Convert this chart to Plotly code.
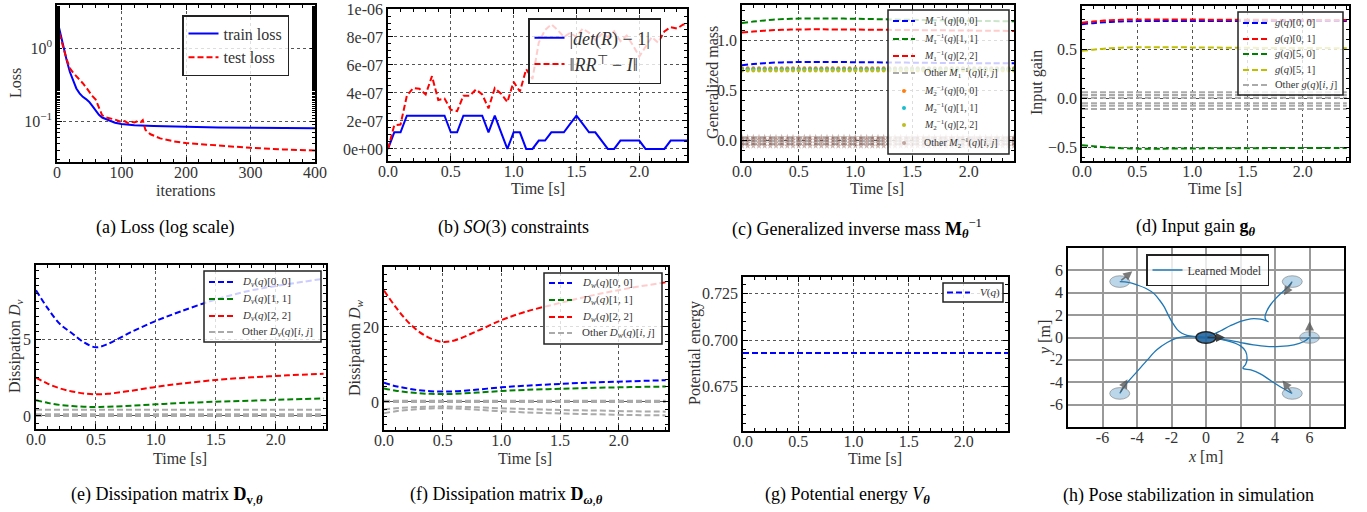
import numpy as np
import plotly.graph_objects as go

W, H = 1367, 512
FONT = "Liberation Serif"

# ---------------- data ----------------
# (a) loss
train_it = [0, 5, 10, 15, 20, 25, 30, 35, 40, 45, 50, 55, 60, 65, 70, 80, 90, 100, 120, 150, 200, 250, 300, 350, 400]
train_loss = [2.5, 1.6, 1.05, 0.68, 0.47, 0.35, 0.28, 0.24, 0.215, 0.2, 0.183, 0.16, 0.14, 0.122, 0.112, 0.102, 0.095, 0.091, 0.088, 0.086, 0.083, 0.082, 0.081, 0.0805, 0.080]
test_it = [0, 5, 10, 15, 20, 25, 30, 35, 40, 45, 50, 55, 60, 65, 70, 75, 80, 90, 100, 105, 110, 115, 120, 125, 130, 133, 137, 145, 160, 180, 200, 250, 300, 350, 400]
test_loss = [2.1, 1.5, 1.0, 0.7, 0.53, 0.46, 0.415, 0.37, 0.33, 0.29, 0.25, 0.22, 0.197, 0.156, 0.12, 0.113, 0.11, 0.105, 0.097, 0.1, 0.094, 0.098, 0.096, 0.1, 0.097, 0.103, 0.076, 0.066, 0.058, 0.053, 0.050, 0.046, 0.043, 0.041, 0.0395]

# (b) SO(3) constraints, sampled every 0.05 s
t_k = np.round(np.arange(0, 2.401, 0.05), 2)
det_err = [0, 1.19e-7, 1.19e-7, 2.38e-7, 2.38e-7, 2.38e-7, 2.38e-7, 2.38e-7, 2.38e-7, 2.38e-7,
           1.19e-7, 1.19e-7, 2.38e-7, 2.38e-7, 2.38e-7, 2.38e-7, 1.19e-7, 2.38e-7, 1.19e-7, 0,
           1.19e-7, 1.19e-7, 0, 0, 5.96e-8, 5.96e-8, 1.19e-7, 1.19e-7, 1.19e-7, 1.79e-7,
           2.38e-7, 1.79e-7, 1.19e-7, 1.19e-7, 5.96e-8, 0, 0, 5.96e-8, 5.96e-8, 5.96e-8,
           5.96e-8, 0, 0, 0, 0, 5.96e-8, 5.96e-8, 5.96e-8, 5.96e-8]
orth_err = [0.0, 1.7e-7, 1.75e-7, 3.8e-7, 4.35e-7, 4.3e-7, 3.9e-7, 5.2e-7, 3.5e-7, 3.6e-7,
            2.8e-7, 2.7e-7, 3.8e-7, 3.8e-7, 4.25e-7, 3.9e-7, 2.9e-7, 4.35e-7, 3.95e-7, 3.35e-7,
            4.8e-7, 4.1e-7, 5.7e-7, 5.0e-7, 7.6e-7, 8.5e-7, 8.9e-7, 8.5e-7, 8.0e-7, 8.3e-7,
            8.0e-7, 8.6e-7, 8.3e-7, 7.8e-7, 8.2e-7, 8.0e-7, 8.4e-7, 7.7e-7, 8.1e-7, 7.4e-7,
            6.6e-7, 7.3e-7, 8.0e-7, 7.6e-7, 8.4e-7, 8.7e-7, 8.6e-7, 8.9e-7, 8.9e-7]

# (c) inverse mass, (d) input gain
t_m = [0, 0.1, 0.2, 0.3, 0.4, 0.5, 0.7, 1.0, 1.3, 1.6, 1.9, 2.2, 2.4]
M1_00 = [0.752, 0.763, 0.772, 0.778, 0.781, 0.783, 0.784, 0.782, 0.779, 0.776, 0.773, 0.771, 0.770]
M1_11 = [1.170, 1.185, 1.197, 1.206, 1.212, 1.215, 1.217, 1.213, 1.207, 1.200, 1.195, 1.190, 1.188]
M1_22 = [1.076, 1.087, 1.095, 1.101, 1.105, 1.107, 1.108, 1.106, 1.103, 1.100, 1.097, 1.094, 1.092]
M1_other_levels = [0.03, 0.0, -0.03]
M2_00_level = 0.722
M2_11_level = 0.712
M2_22_level = 0.698
M2_other_levels = [0.035, 0.01, -0.02, -0.05]

g_00 = [0.755, 0.765, 0.774, 0.780, 0.784, 0.786, 0.787, 0.787, 0.786, 0.786, 0.786, 0.786, 0.786]
g_01 = [0.769, 0.781, 0.791, 0.797, 0.801, 0.803, 0.803, 0.802, 0.800, 0.799, 0.798, 0.797, 0.797]
g_50 = [-0.479, -0.490, -0.499, -0.506, -0.511, -0.514, -0.514, -0.512, -0.510, -0.509, -0.508, -0.507, -0.507]
g_51 = [0.483, 0.495, 0.505, 0.512, 0.517, 0.520, 0.520, 0.518, 0.515, 0.513, 0.512, 0.511, 0.510]
g_other_levels = [0.061, 0.034, 0.005, -0.051, -0.078, -0.109]

# (e), (f) dissipation
t_d = [0, 0.1, 0.2, 0.3, 0.4, 0.5, 0.6, 0.8, 1.0, 1.2, 1.5, 1.8, 2.1, 2.4]
Dv_00 = [8.2, 7.0, 6.0, 5.4, 4.8, 4.48, 4.7, 5.5, 6.2, 6.8, 7.6, 8.2, 8.6, 8.95]
Dv_11 = [1.03, 0.85, 0.72, 0.65, 0.6, 0.59, 0.6, 0.67, 0.76, 0.84, 0.93, 1.0, 1.08, 1.14]
Dv_22 = [2.5, 2.1, 1.8, 1.6, 1.47, 1.42, 1.45, 1.65, 1.9, 2.1, 2.35, 2.52, 2.65, 2.75]
Dv_other_levels = [0.41, 0.12, 0.0]

Dw_00 = [5.1, 4.2, 3.6, 3.1, 2.85, 2.75, 2.8, 3.3, 3.9, 4.3, 4.8, 5.2, 5.5, 5.8]
Dw_11 = [3.6, 3.0, 2.6, 2.3, 2.15, 2.1, 2.15, 2.5, 2.9, 3.2, 3.5, 3.75, 3.95, 4.1]
Dw_22 = [29.7, 25.3, 21.5, 18.7, 16.9, 16.0, 16.4, 19.0, 21.8, 24.0, 26.4, 28.6, 30.4, 31.9]
Dw_other_a = [-2.0, -1.7, -1.5, -1.35, -1.27, -1.24, -1.27, -1.45, -1.7, -1.9, -2.15, -2.3, -2.5, -2.6]
Dw_other_b = [-3.0, -2.5, -2.15, -1.9, -1.75, -1.7, -1.75, -2.1, -2.5, -2.8, -3.1, -3.3, -3.5, -3.6]
Dw_other_levels = [0.3, 0.0]

# (g) potential energy
t_v = [0, 2.4]
V_q = [0.6931, 0.6931]

# (h) pose stabilization trajectories
traj_x = [
    [-5.0, -4.5, -4.0, -3.5, -3.0, -2.7, -2.45, -2.25, -2.05, -1.85, -1.65, -1.4, -1.1, -0.7, -0.3, 0.0],
    [5.0, 4.7, 4.35, 4.05, 3.75, 3.52, 3.42, 3.48, 3.6, 3.3, 3.0, 2.6, 2.0, 1.4, 0.85, 0.4, 0.0],
    [6.0, 5.65, 5.1, 4.3, 3.5, 2.75, 2.0, 1.2, 0.6, 0.0],
    [-5.0, -4.6, -4.0, -3.4, -2.85, -2.25, -1.7, -1.1, -0.5, 0.0],
    [5.0, 4.3, 3.7, 3.15, 2.6, 2.14, 2.3, 2.38, 2.3, 2.0, 1.4, 0.8, 0.25, 0.0],
]
traj_y = [
    [5.0, 4.93, 4.7, 4.4, 3.9, 3.35, 2.8, 2.2, 1.6, 1.1, 0.68, 0.38, 0.2, 0.09, 0.03, 0.0],
    [5.0, 4.45, 3.95, 3.5, 2.95, 2.35, 1.85, 1.55, 1.42, 1.6, 1.67, 1.67, 1.45, 1.05, 0.6, 0.25, 0.0],
    [0.0, -0.38, -0.65, -0.8, -0.8, -0.66, -0.45, -0.22, -0.07, 0.0],
    [-5.0, -4.1, -3.05, -2.0, -1.1, -0.45, -0.06, 0.1, 0.06, 0.0],
    [-5.0, -4.4, -3.8, -3.25, -2.9, -2.74, -2.4, -1.85, -1.25, -0.75, -0.37, -0.15, -0.03, 0.0],
]
start_heading_deg = [40, 240, 90, 62, 126]
goal_heading_deg = 0

# ---------------- helpers ----------------
def xd(l, r):
    return [l / W, r / W]

def yd(t, b):
    return [1 - b / H, 1 - t / H]

BLUE, GREEN, RED, OLIVE, GREY = "#0000ff", "#008000", "#ff0000", "#bfbf00", "#aaaaaa"
ORANGE, CYAN, YEL, BROWN = "#ff7f0e", "#17becf", "#bcbd22", "#8c564b"
DASH = "6px,3px"

fig = go.Figure()
shapes = []
annotations = []

def line(x, y, color, name, xa, ya, leg=None, dash=DASH, width=2, show=True, group=None, shape="spline"):
    kw = dict(legend=leg) if leg else {}
    fig.add_trace(go.Scatter(x=x, y=y, mode="lines", name=name,
                             line=dict(color=color, width=width, dash=dash, shape=shape),
                             xaxis=xa, yaxis=ya, showlegend=(show and leg is not None),
                             legendgroup=group or name, **kw))

def markers(y, color, name, symbol="circle", size=4, opacity=1.0):
    fig.add_trace(go.Scatter(x=t_k, y=y, mode="markers", name=name,
                             marker=dict(color=color, size=size, symbol=symbol, opacity=opacity,
                                         line=dict(width=0)),
                             xaxis="x3", yaxis="y3", showlegend=False))

def manual_legend(box, ys, labels, styles, sample_x, text_x, size):
    x0, y0, x1, y1 = box
    shapes.append(dict(type="rect", xref="paper", yref="paper", x0=x0 / W, x1=x1 / W,
                       y0=1 - y1 / H, y1=1 - y0 / H, fillcolor="rgba(255,255,255,0.8)",
                       line=dict(color="#222", width=1.5), layer="above"))
    for yc, lab, st in zip(ys, labels, styles):
        kind, color = st[0], st[1]
        if kind == "line":
            shapes.append(dict(type="line", xref="paper", yref="paper", x0=sample_x[0] / W,
                               x1=sample_x[1] / W, y0=1 - yc / H, y1=1 - yc / H,
                               line=dict(color=color, width=2, dash=DASH), layer="above"))
        else:
            cx = (sample_x[0] + sample_x[1]) / 2
            r = 2.0
            shapes.append(dict(type="circle", xref="paper", yref="paper", x0=(cx - r) / W, x1=(cx + r) / W,
                               y0=1 - (yc + r) / H, y1=1 - (yc - r) / H, fillcolor=color,
                               line=dict(width=0), opacity=st[2] if len(st) > 2 else 1, layer="above"))
        annotations.append(dict(x=text_x / W, y=1 - yc / H, xref="paper", yref="paper", text=lab,
                                showarrow=False, xanchor="left", yanchor="middle",
                                font=dict(family=FONT, size=size, color="#333")))

# (a)
line(train_it, train_loss, BLUE, "train loss", "x", "y", "legend", dash="solid", shape="linear")
line(test_it, test_loss, RED, "test loss", "x", "y", "legend", shape="linear")

# (b)
line(t_k, det_err, BLUE, "|<i>det</i>(<i>R</i>) − 1| ", "x2", "y2", "legend2", dash="solid", shape="linear")
line(t_k, orth_err, RED, "‖<i>RR</i><sup>⊤</sup> − <i>I</i>‖", "x2", "y2", "legend2", shape="linear")

# (c)
M1n = "<i>M</i><sub>1</sub><sup>−1</sup>(<i>q</i>)"
M2n = "<i>M</i><sub>2</sub><sup>−1</sup>(<i>q</i>)"
line(t_m, M1_00, BLUE, M1n + "[0, 0]", "x3", "y3")
line(t_m, M1_11, GREEN, M1n + "[1, 1]", "x3", "y3")
line(t_m, M1_22, RED, M1n + "[2, 2]", "x3", "y3")
for lv in M1_other_levels:
    line([t_m[0], t_m[-1]], [lv, lv], GREY, "Other " + M1n, "x3", "y3")
markers(np.full(len(t_k), M2_00_level), ORANGE, M2n + "[0, 0]")
markers(np.full(len(t_k), M2_11_level), CYAN, M2n + "[1, 1]")
markers(np.full(len(t_k), M2_22_level), YEL, M2n + "[2, 2]")
for lv in M2_other_levels:
    markers(np.full(len(t_k), lv), BROWN, "Other " + M2n, symbol="star", size=5, opacity=0.45)
manual_legend((888, 10, 1009, 154), [21, 39, 56, 73, 91, 108, 125, 143],
              [M1n + "[0, 0]", M1n + "[1, 1]", M1n + "[2, 2]", "Other " + M1n + "[<i>i</i>, <i>j</i>]",
               M2n + "[0, 0]", M2n + "[1, 1]", M2n + "[2, 2]", "Other " + M2n + "[<i>i</i>, <i>j</i>]"],
              [("line", BLUE), ("line", GREEN), ("line", RED), ("line", GREY),
               ("dot", ORANGE), ("dot", CYAN), ("dot", YEL), ("dot", BROWN, 0.5)],
              (893, 915), 922, 10)

# (d)
gn = "<i>g</i>(<i>q</i>)"
line(t_m, g_00, BLUE, gn + "[0, 0]", "x4", "y4")
line(t_m, g_01, RED, gn + "[0, 1]", "x4", "y4")
line(t_m, g_50, GREEN, gn + "[5, 0]", "x4", "y4")
line(t_m, g_51, OLIVE, gn + "[5, 1]", "x4", "y4")
for lv in g_other_levels:
    line([t_m[0], t_m[-1]], [lv, lv], GREY, "Other " + gn, "x4", "y4")
manual_legend((1238, 12, 1343, 95), [23, 39, 54, 70, 85],
              [gn + "[0, 0]", gn + "[0, 1]", gn + "[5, 0]", gn + "[5, 1]", "Other " + gn + "[<i>i</i>, <i>j</i>]"],
              [("line", BLUE), ("line", RED), ("line", GREEN), ("line", OLIVE), ("line", GREY)],
              (1243, 1267), 1273, 10.5)

# (e)
dvn = "<i>D<sub>v</sub></i>(<i>q</i>)"
line(t_d, Dv_00, BLUE, dvn + "[0, 0]", "x5", "y5")
line(t_d, Dv_11, GREEN, dvn + "[1, 1]", "x5", "y5")
line(t_d, Dv_22, RED, dvn + "[2, 2]", "x5", "y5")
for lv in Dv_other_levels:
    line([t_d[0], t_d[-1]], [lv, lv], GREY, "Other " + dvn, "x5", "y5")
manual_legend((204, 271, 321, 342), [282, 299, 316, 332],
              [dvn + "[0, 0]", dvn + "[1, 1]", dvn + "[2, 2]", "Other " + dvn + "[<i>i</i>, <i>j</i>]"],
              [("line", BLUE), ("line", GREEN), ("line", RED), ("line", GREY)],
              (209, 233), 240, 11)

# (f)
dwn = "<i>D<sub>w</sub></i>(<i>q</i>)"
line(t_d, Dw_00, BLUE, dwn + "[0, 0]", "x6", "y6")
line(t_d, Dw_11, GREEN, dwn + "[1, 1]", "x6", "y6")
line(t_d, Dw_22, RED, dwn + "[2, 2]", "x6", "y6")
for lv in Dw_other_levels:
    line([t_d[0], t_d[-1]], [lv, lv], GREY, "Other " + dwn, "x6", "y6")
line(t_d, Dw_other_a, GREY, "Other " + dwn, "x6", "y6")
line(t_d, Dw_other_b, GREY, "Other " + dwn, "x6", "y6")
manual_legend((544, 273, 662, 344), [283, 300, 317, 333],
              [dwn + "[0, 0]", dwn + "[1, 1]", dwn + "[2, 2]", "Other " + dwn + "[<i>i</i>, <i>j</i>]"],
              [("line", BLUE), ("line", GREEN), ("line", RED), ("line", GREY)],
              (549, 572), 580, 11)

# (g)
line(t_v, V_q, BLUE, "<i>V</i>(<i>q</i>)", "x7", "y7", shape="linear")
manual_legend((943, 283, 1003, 302), [292.5], ["<i>V</i>(<i>q</i>)"], [("line", BLUE)],
              (947, 970), 978, 11)

# (h)
for i, (tx, ty) in enumerate(zip(traj_x, traj_y)):
    line(tx, ty, "#1f77b4", "Learned Model", "x8", "y8", "legend8", dash="solid", width=1.3,
         show=(i == 0), group="h_traj")

R_X, R_Y = 0.58, 0.52
for tx, ty, hd in zip(traj_x, traj_y, start_heading_deg):
    sx, sy = tx[0], ty[0]
    shapes.insert(0, dict(type="circle", xref="x8", yref="y8", x0=sx - R_X, x1=sx + R_X, y0=sy - R_Y, y1=sy + R_Y,
                          fillcolor="rgba(31,119,180,0.3)", line=dict(color="rgba(120,120,120,0.6)", width=1),
                          layer="above"))
    L = 0.95
    annotations.append(dict(x=sx + L * np.cos(np.radians(hd)), y=sy + L * 1.5 * np.sin(np.radians(hd)),
                            ax=sx, ay=sy, xref="x8", yref="y8", axref="x8", ayref="y8",
                            showarrow=True, arrowhead=2, arrowsize=1.2, arrowwidth=1.5,
                            arrowcolor="rgba(90,90,90,0.8)", text=""))
gx, gy = traj_x[0][-1], traj_y[0][-1]
shapes.insert(0, dict(type="circle", xref="x8", yref="y8", x0=gx - R_X, x1=gx + R_X, y0=gy - R_Y, y1=gy + R_Y,
                      fillcolor="rgba(31,100,160,0.9)", line=dict(color="#222", width=1.5), layer="above"))
annotations.append(dict(x=gx + 1.1 * np.cos(np.radians(goal_heading_deg)), y=gy, ax=gx, ay=gy,
                        xref="x8", yref="y8", axref="x8", ayref="y8", showarrow=True, arrowhead=2,
                        arrowsize=1.2, arrowwidth=1.5, arrowcolor="rgba(50,50,50,0.9)", text=""))

# ---------------- axes ----------------
TICKFONT = dict(family=FONT, size=16, color="#333")

def axis(domain, anchor, **kw):
    d = dict(domain=domain, anchor=anchor, showline=True, linecolor="black", linewidth=1.5,
             mirror="allticks", ticks="inside", ticklen=5, tickcolor="black", tickwidth=1,
             showgrid=True, gridcolor="#555", griddash="dot", gridwidth=1, zeroline=False,
             tickfont=TICKFONT, minor=dict(ticks="inside", ticklen=3, tickcolor="black", showgrid=False))
    d.update(kw)
    return d

time_ticks = dict(tickvals=[0, 0.5, 1.0, 1.5, 2.0], ticktext=["0.0", "0.5", "1.0", "1.5", "2.0"],
                  ticklabelstandoff=-5)

layout = dict(
    xaxis=axis(xd(57, 315), "y", range=[0, 400], tickvals=[0, 100, 200, 300, 400], ticklabelstandoff=-5),
    yaxis=axis(yd(5, 162), "x", type="log", range=[-1.56, 0.59], tickvals=[0.1, 1],
               ticktext=["10<sup>−1</sup>", "10<sup>0</sup>"]),
    xaxis2=axis(xd(388, 687), "y2", range=[0, 2.38], **time_ticks),
    yaxis2=axis(yd(9, 161), "x2", range=[-0.86e-7, 1.0e-6],
                tickvals=[0, 2e-7, 4e-7, 6e-7, 8e-7, 1e-6],
                ticktext=["0e+00", "2e-07", "4e-07", "6e-07", "8e-07", "1e-06"]),
    xaxis3=axis(xd(742, 1014), "y3", range=[0, 2.4], **time_ticks),
    yaxis3=axis(yd(5, 161), "x3", range=[-0.2, 1.35], tickvals=[0, 0.5, 1.0], ticktext=["0.0", "0.5", "1.0"]),
    xaxis4=axis(xd(1082, 1349), "y4", range=[0, 2.42], **time_ticks),
    yaxis4=axis(yd(6, 161), "x4", range=[-0.64, 0.94], tickvals=[-0.5, 0, 0.5], ticktext=["−0.5", "0.0", "0.5"]),
    xaxis5=axis(xd(36, 326), "y5", range=[0, 2.42], **time_ticks),
    yaxis5=axis(yd(265, 429), "x5", range=[-0.85, 9.85], tickvals=[0, 5], ticktext=["0", "5"]),
    xaxis6=axis(xd(384, 668), "y6", range=[0, 2.42], **time_ticks),
    yaxis6=axis(yd(267, 430), "x6", range=[-7.5, 36], tickvals=[0, 20], ticktext=["0", "20"]),
    xaxis7=axis(xd(743, 1008), "y7", range=[0, 2.4], **time_ticks),
    yaxis7=axis(yd(277, 431), "x7", range=[0.651, 0.734], tickvals=[0.675, 0.7, 0.725],
                ticktext=["0.675", "0.700", "0.725"]),
    xaxis8=dict(domain=xd(1068, 1344), anchor="y8", range=[-8, 8], showline=True, linecolor="black",
                linewidth=1.5, mirror=True, ticks="", showgrid=True, gridcolor="#999", gridwidth=1.5,
                zeroline=False, tickvals=[-8, -6, -4, -2, 0, 2, 4, 6, 8], ticklabelstandoff=-5,
                ticktext=["", "-6", "-4", "-2", "0", "2", "4", "6", ""], tickfont=TICKFONT),
    yaxis8=dict(domain=yd(248, 427), anchor="x8", range=[-8, 8], showline=True, linecolor="black",
                linewidth=1.5, mirror=True, ticks="", showgrid=True, gridcolor="#999", gridwidth=1.5,
                zeroline=False, tickvals=[-8, -6, -4, -2, 0, 2, 4, 6, 8],
                ticktext=["", "-6", "-4", "-2", "0", "2", "4", "6", ""], tickfont=TICKFONT),
)

def leg(x, y, size):
    return dict(x=x / W, y=1 - y / H, xanchor="left", yanchor="top",
                bgcolor="rgba(255,255,255,0.8)", bordercolor="#222", borderwidth=1.5,
                font=dict(family=FONT, size=size, color="#333"), tracegroupgap=0,
                traceorder="normal", itemwidth=30)

layout["legend"] = leg(182, 15, 16)
layout["legend2"] = leg(528, 18, 18)
layout["legend8"] = leg(1146, 254, 12)

# axis titles and captions
def txt(x, y, s, size=16, angle=0, color="#333"):
    annotations.append(dict(x=x / W, y=1 - y / H, xref="paper", yref="paper", text=s, showarrow=False,
                            textangle=angle, xanchor="center", yanchor="middle",
                            font=dict(family=FONT, size=size, color=color)))

txt(15, 83, "Loss", angle=-90)
txt(186, 190, "iterations")
txt(538, 188, "Time [s]")
txt(712, 83, "Generalized mass", angle=-90)
txt(877, 188, "Time [s]")
txt(1037, 83, "Input gain", angle=-90)
txt(1215, 188, "Time [s]")
txt(15, 347, "Dissipation <i>D<sub>v</sub></i>", angle=-90)
txt(180, 458, "Time [s]")
txt(355, 348, "Dissipation <i>D<sub>w</sub></i>", angle=-90)
txt(525, 458, "Time [s]")
txt(695, 353, "Potential energy", angle=-90)
txt(875, 458, "Time [s]")
txt(1045, 338, "<i>y</i> [m]", angle=-90)
txt(1205, 456, "<i>x</i> [m]")

CAP = 18
txt(165, 227, "(a) Loss (log scale)", CAP, color="black")
txt(513, 227, "(b) <i>SO</i>(3) constraints", CAP, color="black")
txt(857, 228, "(c) Generalized inverse mass <b>M</b><sub><b><i>θ</i></b></sub><sup>−1</sup>", CAP, color="black")
txt(1195, 227, "(d) Input gain <b>g</b><sub><b><i>θ</i></b></sub>", CAP, color="black")
txt(167, 495, "(e) Dissipation matrix <b>D</b><sub><b>v</b>,<b><i>θ</i></b></sub>", CAP, color="black")
txt(507, 495, "(f) Dissipation matrix <b>D</b><sub><b><i>ω</i></b>,<b><i>θ</i></b></sub>", CAP, color="black")
txt(847, 495, "(g) Potential energy <i>V</i><sub><b><i>θ</i></b></sub>", CAP, color="black")
txt(1188, 495, "(h) Pose stabilization in simulation", CAP, color="black")

fig.update_layout(**layout)
fig.update_layout(width=W, height=H, margin=dict(l=0, r=0, t=0, b=0, autoexpand=False),
                  paper_bgcolor="white", plot_bgcolor="white", shapes=shapes,
                  annotations=annotations, showlegend=True)

fig.write_html("out.html", config={"responsive": False, "displayModeBar": False},
               post_script="document.body.style.margin='0px';document.documentElement.style.overflow='hidden';")
